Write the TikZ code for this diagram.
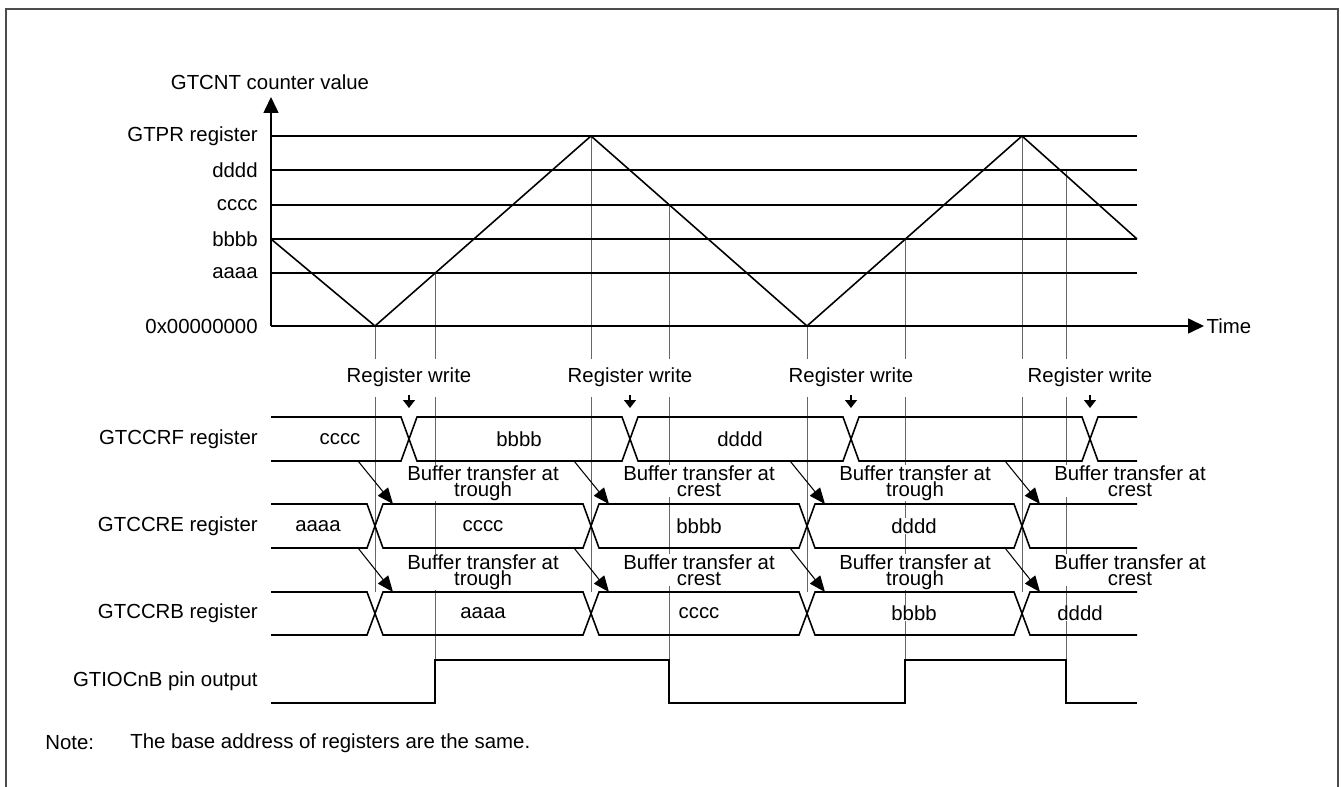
\documentclass[tikz,border=0pt]{standalone}
\usepackage{fontspec}
\setmainfont{Liberation Sans}
\usetikzlibrary{arrows.meta}

\begin{document}
\begin{tikzpicture}[x=0.02cm, y=-0.02cm, >=Triangle,
  every node/.style={font=\fontsize{11.6}{13}\selectfont, inner sep=1pt},
  sig/.style={line width=0.9pt, line join=miter},
  guide/.style={line width=0.45pt, black!60},
  lbl/.style={anchor=east, inner sep=0pt},
  val/.style={fill=white, inner sep=0.5pt},
  bufl/.style={fill=white, inner sep=0pt, anchor=north, align=center,
    font=\fontsize{11.6}{9.6}\selectfont},
  bt/.style={line width=0.6pt, -{Triangle[length=0.32cm, width=0.26cm]}},
  wr/.style={line width=0.8pt, -{Triangle[length=0.16cm, width=0.24cm]}}]
  \useasboundingbox (0,0) rectangle (1341,787);
  % frame
  \draw[black!70, line width=0.6pt] (6,800) -- (6,9) -- (1338,9) -- (1338,800);
  % guide lines
  \foreach \x/\y in {375/326, 591/136, 807/326, 1022/136}
    \draw[guide] (\x,\y) -- (\x,359) (\x,397) -- (\x,592);
  \foreach \x/\y in {435/273, 669/205, 905/239, 1066/170}
    \draw[guide] (\x,\y) -- (\x,359) (\x,397) -- (\x,703);
  % levels
  \foreach \y/\t [count=\i] in {136/GTPR register, 170/dddd, 205/cccc, 239/bbbb, 273/aaaa} {
    \draw[sig] (271,\y) -- (1137,\y);
    \node[lbl] (lev\i) at (258,\y) {\t};
  }
  \node[lbl] (zero) at (258,326) {0x00000000};
  % axes
  \draw[sig, -{Triangle[length=0.32cm, width=0.3cm]}] (271,326) -- (1204,326) node[right, inner sep=1pt] (time) {Time};
  \draw[sig, -{Triangle[length=0.32cm, width=0.3cm]}] (271,326) -- (271,97);
  \node (cnt) at (270,82) {GTCNT counter value};
  % counter
  \draw[sig] (271,239) -- (375,326) -- (591,136) -- (807,326) -- (1022,136) -- (1137,239);
  % register write
  \foreach \c [count=\i] in {409,630,851,1090} {
    \node (rw\i) at (\c,377) {Register write};
    \coordinate (wf\i) at (\c,408);
    \draw[wr, shorten <=0.13cm] (rw\i.south) -- (wf\i);
  }
  % row names
  \node[lbl] (regf) at (258,439) {GTCCRF register};
  \node[lbl] (rege) at (258,526) {GTCCRE register};
  \node[lbl] (regb) at (258,613) {GTCCRB register};
  \node[lbl] (pin) at (258,681) {GTIOCnB pin output};
  % buffer transfer texts
  \foreach \c/\w [count=\i] in {375/trough, 591/crest, 807/trough, 1022/crest} {
    \foreach \y [count=\j] in {465,554}
      \node[bufl] (bt\i\j) at (\c+108,\y) {Buffer transfer at\\\w};
  }
  % values
  \foreach \x/\t [count=\i] in {340/cccc, 519/bbbb, 740/dddd}
    \node[val] (fv\i) at (\x,439) {\t};
  \foreach \x/\t [count=\i] in {318/aaaa, 483/cccc, 699/bbbb, 914/dddd}
    \node[val] (ev\i) at (\x,526) {\t};
  \foreach \x/\t [count=\i] in {483/aaaa, 699/cccc, 914/bbbb, 1080/dddd}
    \node[val] (bv\i) at (\x,613) {\t};
  % buses
  \foreach \t/\b/\ca/\cb/\cc/\cd in {417/461/409/630/851/1090, 504/548/375/591/807/1022, 592/635/375/591/807/1022} {
    \draw[sig] (271,\t) -- (\ca-8,\t) -- (\ca+8,\b) -- (\cb-8,\b) -- (\cb+8,\t) -- (\cc-8,\t) -- (\cc+8,\b) -- (\cd-8,\b) -- (\cd+8,\t) -- (1137,\t);
    \draw[sig] (271,\b) -- (\ca-8,\b) -- (\ca+8,\t) -- (\cb-8,\t) -- (\cb+8,\b) -- (\cc-8,\b) -- (\cc+8,\t) -- (\cd-8,\t) -- (\cd+8,\b) -- (1137,\b);
  }
  % buffer transfer arrows
  \foreach \c [count=\i] in {375,591,807,1022} {
    \foreach \u/\l [count=\j] in {461/504, 548/592} {
      \coordinate (ba\i\j) at (\c-17,\u);
      \coordinate (bb\i\j) at (\c+18,\l);
      \draw[bt] (ba\i\j) -- (bb\i\j);
    }
  }
  % pin output
  \draw[sig] (271,703) -- (435,703) -- (435,660) -- (669,660) -- (669,703) -- (905,703) -- (905,660) -- (1066,660) -- (1066,703) -- (1137,703);
  % note
  \node[anchor=west, inner sep=0pt] (note) at (45,743) {Note:};
  \node[anchor=west, inner sep=0pt] (notetext) at (130,743) {The base address of registers are the same.};
\end{tikzpicture}
\end{document}
